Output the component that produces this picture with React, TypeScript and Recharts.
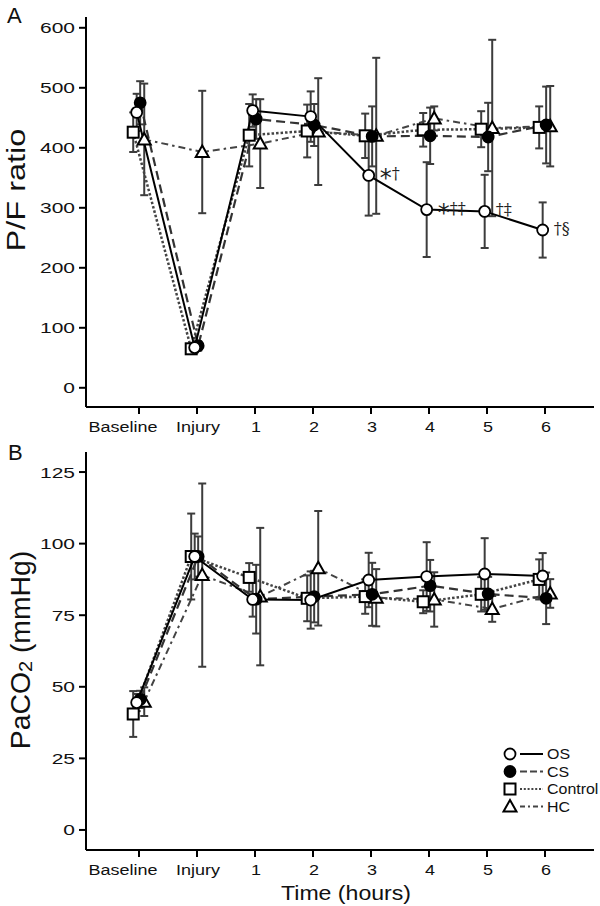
import React from 'react';
import { LineChart, Line, XAxis, YAxis, ErrorBar, LabelList } from 'recharts';

// time points (index on the x axis)
const TIME_LABELS = ['Baseline', 'Injury', '1', '2', '3', '4', '5', '6'];
const TIME_TICKS = [0, 1, 2, 3, 4, 5, 6, 7];

// panel A: P/F ratio, mean and SD
const PF_OS = [459, 67, 462, 452, 354, 297, 294, 263];
const PF_OS_ERR = [31, 8, 27, 42, 67, 79, 61, 46];
const PF_OS_SIG = ['', '', '', '', '*†', '*†‡', '†‡', '†§'];
const PF_CS = [475, 70, 448, 438, 419, 420, 418, 438];
const PF_CS_ERR = [36, 8, 33, 35, 50, 47, 57, 64];
const PF_CONTROL = [426, 65, 421, 428, 420, 430, 431, 434];
const PF_CONTROL_ERR = [33, 8, 52, 44, 37, 28, 30, 35];
const PF_HC = [414, 393, 407, 427, 420, 449, 433, 436];
const PF_HC_ERR = [93, 102, 74, 89, 130, 20, 147, 67];
const PF_TICKS = [0, 100, 200, 300, 400, 500, 600];

// panel B: PaCO2 (mmHg), mean and SD
const PA_OS = [44.5, 95.5, 80.5, 80.3, 87.3, 88.5, 89.4, 88.7];
const PA_OS_ERR = [3, 8, 6, 10, 9.5, 12, 12.5, 8];
const PA_CS = [45.6, 95.5, 80.6, 81.5, 82.3, 85.3, 82.4, 80.9];
const PA_CS_ERR = [3, 7, 12, 9, 11, 9, 6, 9];
const PA_CONTROL = [40.5, 95.5, 88.2, 80.9, 81.5, 79.7, 82.3, 87.5];
const PA_CONTROL_ERR = [8, 15, 5, 8, 6, 4, 6, 7];
const PA_HC = [44.8, 89, 81.5, 91.4, 81.1, 80.5, 77.2, 82.6];
const PA_HC_ERR = [5, 32, 24, 20, 10, 9.5, 4.5, 5];
const PA_TICKS = [0, 25, 50, 75, 100, 125];

const FONT = '"Liberation Sans", Arial, sans-serif';
const X_DOMAIN = [-0.914, 7.845];

type MarkerType = 'openCircle' | 'filledCircle' | 'square' | 'triangle';

// drawing order: OS last so it sits on top
const STYLES: { name: string; marker: MarkerType; stroke: string; width: number; dash?: string; dodge: number }[] = [
  { name: 'HC', marker: 'triangle', stroke: '#444', width: 2, dash: '7 4 2.5 4', dodge: 0.09 },
  { name: 'Control', marker: 'square', stroke: '#444', width: 2.5, dash: '2.5 2', dodge: -0.1 },
  { name: 'CS', marker: 'filledCircle', stroke: '#333', width: 2.2, dash: '9 5', dodge: 0.02 },
  { name: 'OS', marker: 'openCircle', stroke: '#000', width: 2, dodge: -0.04 },
];

const build = (values: number[], errs: number[], dodge: number, sig?: string[]) =>
  values.map((v, i) => ({ x: i + dodge, y: v, err: errs[i], sig: sig ? sig[i] : '' }));

function drawMarker(type: MarkerType, cx: number, cy: number, key: string) {
  if (cx == null || cy == null) return <g key={key} />;
  if (type === 'square')
    return <rect key={key} x={cx - 5.5} y={cy - 5.5} width={11} height={11} fill="#fff" stroke="#000" strokeWidth={2} />;
  if (type === 'triangle')
    return (
      <polygon key={key} points={`${cx},${cy - 6.5} ${cx + 6.5},${cy + 5} ${cx - 6.5},${cy + 5}`}
        fill="#fff" stroke="#000" strokeWidth={2} strokeLinejoin="miter" />
    );
  return (
    <circle key={key} cx={cx} cy={cy} r={5.5} fill={type === 'filledCircle' ? '#000' : '#fff'}
      stroke="#000" strokeWidth={1.8} />
  );
}

const XTick = (props: any) => {
  const { x, y, payload } = props;
  // the Baseline label sits a little left of its tick in the original
  const shift = payload.value === 0 ? -16 : 1;
  return (
    <text transform={`translate(${x + shift},${y + 16}) scale(1.2,1)`} textAnchor="middle" fontSize={15}
      fontFamily={FONT} fill="#111">
      {TIME_LABELS[payload.value]}
    </text>
  );
};

const YTick = (props: any) => {
  const { x, y, payload } = props;
  return (
    <text transform={`translate(${x},${y + 5.5}) scale(1.4,1)`} textAnchor="end" fontSize={15}
      fontFamily={FONT} fill="#111">
      {payload.value}
    </text>
  );
};

const SigLabel = (props: any) => {
  const { x, y, value } = props;
  if (!value) return null;
  return (
    <text x={x + 11} y={y + 4} fontSize={16} fontFamily='"DejaVu Serif", serif' fill="#222">
      {String(value).split('').map((ch, i) =>
        ch === '*' ? (
          <tspan key={i} fontSize={24} dy={7} fontFamily='"DejaVu Sans", sans-serif'>*</tspan>
        ) : (
          <tspan key={i} dy={i > 0 && String(value)[i - 1] === '*' ? -7 : 0}>{ch}</tspan>
        )
      )}
    </text>
  );
};

function Panel({ series, domain, ticks, width, height, margin }: any) {
  return (
    <LineChart width={width} height={height} margin={margin}>
      <XAxis type="number" dataKey="x" domain={X_DOMAIN} ticks={TIME_TICKS} allowDataOverflow
        tick={<XTick />} tickSize={7} tickMargin={2} height={30}
        axisLine={{ stroke: '#000', strokeWidth: 2 }} tickLine={{ stroke: '#000', strokeWidth: 2 }} />
      <YAxis type="number" domain={domain} ticks={ticks} allowDataOverflow width={86}
        tick={<YTick />} tickSize={7} tickMargin={4}
        axisLine={{ stroke: '#000', strokeWidth: 2 }} tickLine={{ stroke: '#000', strokeWidth: 2 }} />
      {STYLES.map((s) => (
        <Line key={s.name} name={s.name} data={series[s.name]} dataKey="y" type="linear"
          stroke={s.stroke} strokeWidth={s.width} strokeDasharray={s.dash}
          dot={(p: any) => drawMarker(s.marker, p.cx, p.cy, `${s.name}-${p.index}`)}
          activeDot={false} isAnimationActive={false}>
          <ErrorBar dataKey="err" direction="y" width={4} strokeWidth={2} stroke="#3c3c3c" />
          {s.name === 'OS' ? <LabelList dataKey="sig" content={<SigLabel />} /> : null}
        </Line>
      ))}
    </LineChart>
  );
}

const LEGEND = [
  { name: 'OS', marker: 'openCircle' as MarkerType, dash: undefined },
  { name: 'CS', marker: 'filledCircle' as MarkerType, dash: '7 3' },
  { name: 'Control', marker: 'square' as MarkerType, dash: '2 1.8' },
  { name: 'HC', marker: 'triangle' as MarkerType, dash: '5 3 2 3' },
];

export default function App() {
  const seriesA: any = {};
  const seriesB: any = {};
  const dodge: any = {};
  STYLES.forEach((s) => (dodge[s.name] = s.dodge));
  seriesA.OS = build(PF_OS, PF_OS_ERR, dodge.OS, PF_OS_SIG);
  seriesA.CS = build(PF_CS, PF_CS_ERR, dodge.CS);
  seriesA.Control = build(PF_CONTROL, PF_CONTROL_ERR, dodge.Control);
  seriesA.HC = build(PF_HC, PF_HC_ERR, dodge.HC);
  seriesB.OS = build(PA_OS, PA_OS_ERR, dodge.OS);
  seriesB.CS = build(PA_CS, PA_CS_ERR, dodge.CS);
  seriesB.Control = build(PA_CONTROL, PA_CONTROL_ERR, dodge.Control);
  seriesB.HC = build(PA_HC, PA_HC_ERR, dodge.HC);

  return (
    <div style={{ position: 'absolute', left: 0, top: 0, width: 600, height: 906, background: '#fff' }}>
      <div style={{ position: 'absolute', left: 0, top: 0 }}>
        <Panel series={seriesA} domain={[-32, 618]} ticks={PF_TICKS} width={600} height={440}
          margin={{ top: 17, right: 6, bottom: 3, left: 0 }} />
      </div>
      <div style={{ position: 'absolute', left: 0, top: 440 }}>
        <Panel series={seriesB} domain={[-7, 132]} ticks={PA_TICKS} width={600} height={466}
          margin={{ top: 12, right: 6, bottom: 26, left: 0 }} />
      </div>
      <svg width={600} height={906} style={{ position: 'absolute', left: 0, top: 0, pointerEvents: 'none' }}
        fontFamily={FONT} fill="#111">
        <text x={7} y={23} fontSize={22}>A</text>
        <text x={8} y={460} fontSize={22}>B</text>
        <text transform="translate(25,190) rotate(-90) scale(1.25,1)" textAnchor="middle" fontSize={26}>P/F ratio</text>
        <text transform="translate(30,650) rotate(-90) scale(1.05,1)" textAnchor="middle" fontSize={27}>
          <tspan>PaCO</tspan>
          <tspan fontSize={19} dy={2}>2</tspan>
          <tspan dy={-2}> (mmHg)</tspan>
        </text>
        <text transform="translate(346,900) scale(1.1,1)" textAnchor="middle" fontSize={21}>Time (hours)</text>
        {LEGEND.map((l, i) => {
          const cy = 754 + i * 17.5;
          return (
            <g key={l.name}>
              {drawMarker(l.marker, 510, cy, `lg-${l.name}`)}
              <line x1={520} x2={543} y1={cy} y2={cy} stroke={i === 0 ? '#000' : '#444'} strokeWidth={2}
                strokeDasharray={l.dash} />
              <text transform={`translate(547,${cy + 5}) scale(1.1,1)`} fontSize={14.5}>{l.name}</text>
            </g>
          );
        })}
      </svg>
    </div>
  );
}
